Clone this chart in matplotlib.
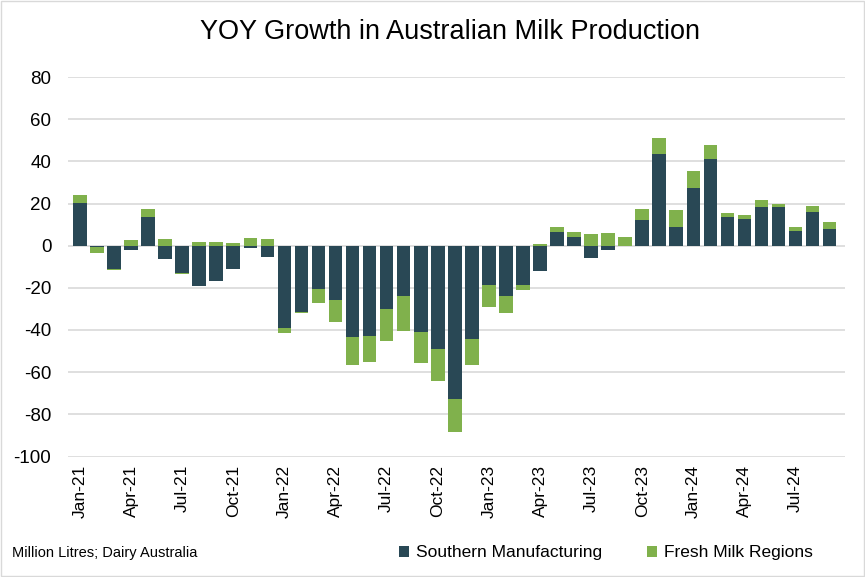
import matplotlib
matplotlib.use("Agg")
import matplotlib.pyplot as plt
import numpy as np
from matplotlib.patches import Rectangle
from matplotlib.font_manager import FontProperties

months = ["Jan-21","Feb-21","Mar-21","Apr-21","May-21","Jun-21","Jul-21","Aug-21","Sep-21","Oct-21","Nov-21","Dec-21",
          "Jan-22","Feb-22","Mar-22","Apr-22","May-22","Jun-22","Jul-22","Aug-22","Sep-22","Oct-22","Nov-22","Dec-22",
          "Jan-23","Feb-23","Mar-23","Apr-23","May-23","Jun-23","Jul-23","Aug-23","Sep-23","Oct-23","Nov-23","Dec-23",
          "Jan-24","Feb-24","Mar-24","Apr-24","May-24","Jun-24","Jul-24","Aug-24","Sep-24"]

southern = [20.3, -0.8, -11.0, -2.0, 13.7, -6.3, -13.0, -19.2, -16.8, -11.0, -1.1, -5.3,
            -39.1, -31.5, -20.5, -25.8, -43.1, -42.8, -30.0, -23.9, -40.9, -48.8, -72.7, -44.1,
            -18.6, -23.9, -18.6, -11.9, 6.3, 4.0, -5.9, -2.0, 0.0, 12.0, 43.5, 8.7,
            27.3, 41.1, 13.5, 12.5, 18.3, 18.3, 6.8, 15.9, 7.8]

fresh = [3.8, -2.6, -0.5, 2.6, 3.6, 3.0, -0.5, 1.6, 1.6, 1.1, 3.4, 3.1,
         -2.2, -0.4, -6.6, -10.2, -13.3, -12.2, -15.0, -16.4, -14.6, -15.2, -15.5, -12.3,
         -10.3, -7.9, -2.3, 0.7, 2.4, 2.3, 5.6, 6.0, 4.0, 5.3, 7.6, 8.1,
         8.1, 6.7, 1.9, 1.9, 3.3, 1.4, 1.9, 2.8, 3.3]

tick_labels = ["Jan-21","Apr-21","Jul-21","Oct-21","Jan-22","Apr-22","Jul-22","Oct-22",
               "Jan-23","Apr-23","Jul-23","Oct-23","Jan-24","Apr-24","Jul-24"]
y_ticks = [-100, -80, -60, -40, -20, 0, 20, 40, 60, 80]

DARK = "#294855"
GREEN = "#80b14c"

fig = plt.figure(figsize=(8.65, 5.77), dpi=100)
fig.patches.append(Rectangle((0.001, 0.001), 0.998, 0.997, transform=fig.transFigure,
                             fill=False, edgecolor="#d9d9d9", linewidth=1.0))
ax = fig.add_axes([68/865, (577-456.5)/577, (845-68)/865, (456.5-77)/577])

x = np.arange(len(months))
s = np.array(southern)
f = np.array(fresh)
pos_base = np.zeros(len(x))
neg_base = np.zeros(len(x))

def stack(vals, color, label):
    global pos_base, neg_base
    bottom = np.where(vals >= 0, pos_base, neg_base)
    ax.bar(x, vals, bottom=bottom, width=0.8, color=color, label=label, zorder=3)
    pos_base = pos_base + np.where(vals >= 0, vals, 0)
    neg_base = neg_base + np.where(vals < 0, vals, 0)

stack(s, DARK, "Southern Manufacturing")
stack(f, GREEN, "Fresh Milk Regions")

ax.set_ylim(-100, 80)
ax.set_xlim(-0.7, len(x) - 0.1)
ax.set_yticks(y_ticks)
ax.set_yticklabels([str(v) for v in y_ticks], fontsize=13.5, color="#000000", family="Liberation Sans")
ax.yaxis.grid(True, color="#d9d9d9", linewidth=1.2, zorder=0)
ax.set_axisbelow(True)
for sp in ax.spines.values():
    sp.set_visible(False)
ax.tick_params(axis="y", length=0, pad=12)
ax.tick_params(axis="x", length=0, pad=6)

tick_pos = [months.index(t) for t in tick_labels]
ax.set_xticks(tick_pos)
ax.set_xticklabels(tick_labels, rotation=90, fontsize=12.5, family="Liberation Sans", color="#000000")

fig.text(450.5/865, 1 - 32/577, "YOY Growth in Australian Milk Production", ha="center", va="center",
         fontsize=19.5, family="Liberation Sans", color="#000000")

fig.text(12/865, 1 - 553/577, "Million Litres; Dairy Australia", ha="left", va="center",
         fontsize=10.5, family="Liberation Sans", color="#000000")

leg = fig.legend(loc="center", bbox_to_anchor=(606/865, 1 - 553/577), ncol=2, frameon=False,
                 prop=FontProperties(family="Liberation Sans", size=12.5), handlelength=0.55, handleheight=0.6,
                 handletextpad=0.4, columnspacing=2.6)

fig.savefig("out.png", dpi=100)
